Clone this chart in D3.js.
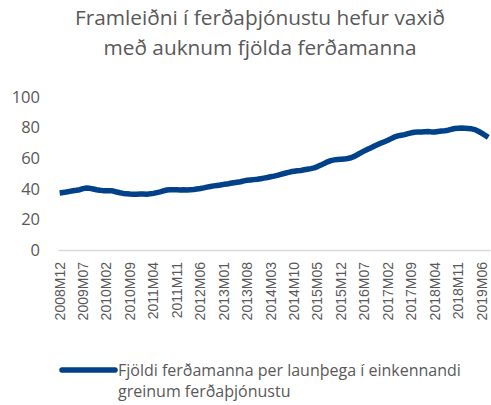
<!DOCTYPE html>
<html>
<head>
<meta charset="utf-8">
<script src="https://cdn.jsdelivr.net/npm/d3@7"></script>
<style>
  body { margin: 0; background: #fff; }
  svg { display: block; }
</style>
</head>
<body>
<svg id="chart"></svg>
<script>
// monthly series, 2008M12 .. 2019M08
const startYear = 2008, startMonth = 12;
const values = [
  37.3, 37.6, 37.9, 38.3, 38.7, 39.0, 39.4, 40.1, 40.5, 40.3, 39.9, 39.4, 39.0,
  38.8, 38.7, 38.8, 38.5, 37.9, 37.4, 37.0, 36.8, 36.6, 36.5, 36.5, 36.6,
  36.6, 36.5, 36.7, 37.0, 37.5, 38.0, 38.6, 39.2, 39.4, 39.3, 39.3, 39.2,
  39.3, 39.2, 39.4, 39.6, 39.9, 40.2, 40.6, 41.1, 41.5, 41.9, 42.2, 42.5,
  42.9, 43.1, 43.6, 44.0, 44.3, 44.6, 45.2, 45.6, 45.8, 46.0, 46.2, 46.6,
  47.0, 47.4, 47.9, 48.3, 48.8, 49.4, 50.0, 50.6, 51.1, 51.5, 51.8, 52.0,
  52.4, 52.8, 53.2, 53.7, 54.5, 55.5, 56.6, 57.6, 58.4, 58.9, 59.1, 59.3,
  59.4, 59.8, 60.3, 61.2, 62.4, 63.6, 64.8, 65.9, 66.9, 67.9, 68.9, 69.9,
  70.8, 71.7, 72.8, 73.9, 74.6, 75.0, 75.4, 76.0, 76.6, 77.0, 77.2, 77.2,
  77.3, 77.4, 77.2, 77.1, 77.5, 77.8, 78.0, 78.3, 78.9, 79.4, 79.6, 79.7,
  79.6, 79.4, 79.2, 78.7, 77.6, 76.4, 75.0, 73.6
];
const yTicks = [0, 20, 40, 60, 80, 100];
const titleLines = ["Framleiðni í ferðaþjónustu hefur vaxið", "með auknum fjölda ferðamanna"];
const legendLines = ["Fjöldi ferðamanna per launþega í einkennandi", "greinum ferðaþjónustu"];

// build month labels like 2008M12
const months = values.map((v, i) => {
  const m = startMonth - 1 + i;
  const y = startYear + Math.floor(m / 12);
  const mm = (m % 12) + 1;
  return y + "M" + (mm < 10 ? "0" + mm : mm);
});
const data = values.map((v, i) => ({ month: months[i], value: v }));

const width = 491, height = 405;
const margin = { top: 97, right: 1, bottom: 155, left: 58 };
const textColor = "#595959";
const lineColor = "#00418a";

const svg = d3.select("#chart").attr("width", width).attr("height", height);

const xScale = d3.scaleBand()
  .domain(months)
  .range([margin.left, width - margin.right]);

const yScale = d3.scaleLinear()
  .domain([0, 100])
  .range([height - margin.bottom, margin.top]);

// title
svg.append("g")
  .selectAll("text")
  .data(titleLines)
  .enter()
  .append("text")
  .attr("x", 260)
  .attr("y", (d, i) => 25 + i * 30)
  .attr("text-anchor", "middle")
  .attr("fill", textColor)
  .style("font-family", "'Open Sans', sans-serif")
  .style("font-size", "20.8px")
  .text((d) => d);

// y axis (labels only)
svg.append("g")
  .attr("transform", "translate(" + (margin.left - 18) + ",0)")
  .call(d3.axisLeft(yScale).tickValues(yTicks).tickSize(0).tickPadding(0))
  .call((g) => g.select(".domain").remove())
  .selectAll("text")
  .attr("fill", textColor)
  .style("font-family", "'Open Sans', sans-serif")
  .style("font-size", "16.5px");

// x axis, every 7th month
const xAxis = svg.append("g")
  .attr("transform", "translate(0," + yScale(0) + ")")
  .call(d3.axisBottom(xScale)
    .tickValues(months.filter((d, i) => i % 7 === 0 && i <= 126))
    .tickSize(0));
xAxis.select(".domain")
  .attr("stroke", "#d9d9d9")
  .attr("stroke-width", 1.5);
xAxis.selectAll("text")
  .attr("transform", "rotate(-90)")
  .attr("x", -12)
  .attr("y", 0)
  .attr("dy", "0.35em")
  .style("text-anchor", "end")
  .attr("fill", textColor)
  .style("font-family", "'Liberation Sans', Arial, sans-serif")
  .style("font-size", "14px");

// the line
const line = d3.line()
  .x((d) => xScale(d.month) + xScale.bandwidth() / 2)
  .y((d) => yScale(d.value));

svg.append("path")
  .datum(data)
  .attr("fill", "none")
  .attr("stroke", lineColor)
  .attr("stroke-width", 5.5)
  .attr("stroke-linejoin", "round")
  .attr("d", line);

// legend
svg.append("line")
  .attr("x1", 62).attr("x2", 115)
  .attr("y1", 370).attr("y2", 370)
  .attr("stroke", lineColor)
  .attr("stroke-width", 5.5)
  .attr("stroke-linecap", "round");

svg.append("g")
  .selectAll("text")
  .data(legendLines)
  .enter()
  .append("text")
  .attr("x", 118)
  .attr("y", (d, i) => 376 + i * 21)
  .attr("fill", textColor)
  .style("font-family", "'Open Sans', sans-serif")
  .style("font-size", "16px")
  .text((d) => d);
</script>
</body>
</html>
